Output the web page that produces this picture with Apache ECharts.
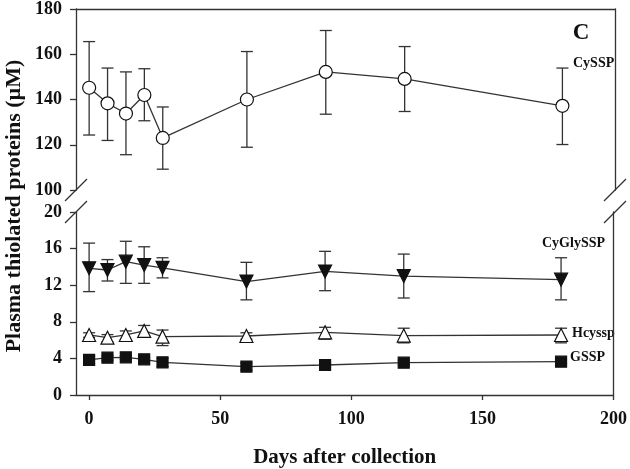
<!DOCTYPE html>
<html>
<head>
<meta charset="utf-8">
<script src="https://cdn.jsdelivr.net/npm/echarts@6/dist/echarts.min.js"></script>
<style>html,body{margin:0;padding:0;background:#fff}#c{width:630px;height:469px}</style>
</head>
<body>
<div id="c"></div>
<script>
// ---- data ----
const days = [0, 7, 14, 21, 28, 60, 90, 120, 180];
const xTicks = [0, 50, 100, 150, 200];
const topYTicks = [100, 120, 140, 160, 180];
const bottomYTicks = [0, 4, 8, 12, 16, 20];

const cyssp    = [145.2, 138.3, 133.8, 142.0, 123.0, 140.0, 152.2, 149.1, 137.2];
const cysspHi  = [165.6, 153.9, 152.2, 153.6, 136.7, 161.2, 170.5, 163.4, 153.9];
const cysspLo  = [124.3, 121.9, 115.6, 130.6, 109.2, 118.9, 133.5, 134.7, 120.1];

const cyglyssp   = [13.85, 13.66, 14.57, 14.2, 13.9, 12.4, 13.5, 13.0, 12.6];
const cyglysspHi = [16.6, 14.8, 16.8, 16.2, 15.0, 14.5, 15.7, 15.4, 15.0];
const cyglysspLo = [11.3, 12.46, 12.2, 12.2, 12.8, 10.4, 11.4, 10.6, 10.4];

const hcyssp   = [6.56, 6.26, 6.56, 7.0, 6.37, 6.45, 6.85, 6.5, 6.56];
const hcysspHi = [6.8, 6.6, 7.0, 7.6, 7.1, 6.8, 7.4, 7.3, 7.3];
const hcysspLo = [6.3, 5.8, 6.0, 6.4, 5.4, 6.1, 6.1, 5.7, 5.7];

const gssp   = [3.83, 4.08, 4.12, 3.9, 3.57, 3.1, 3.28, 3.53, 3.64];
const gsspHi = [4.2, 4.3, 4.3, 4.1, 4.0, 3.5, 3.5, 3.8, 3.9];
const gsspLo = [3.4, 3.8, 3.9, 3.6, 3.1, 2.7, 3.0, 3.3, 3.4];

// ---- styles ----
const FONT = '"Liberation Serif","Times New Roman",serif';
const LINE = '#333';

function pts(ys) { return days.map((d, i) => [d, ys[i]]); }
function errs(lo, hi) { return days.map((d, i) => [d, lo[i], hi[i]]); }

function errorSeries(lo, hi, gi) {
  return {
    type: 'custom', xAxisIndex: gi, yAxisIndex: gi * 2, z: 1,
    encode: { x: 0, y: [1, 2] },
    data: errs(lo, hi),
    renderItem: function (params, api) {
      const x = api.value(0);
      const a = api.coord([x, api.value(1)]);
      const b = api.coord([x, api.value(2)]);
      const w = 6;
      const st = { stroke: LINE, lineWidth: 1.3 };
      return {
        type: 'group', children: [
          { type: 'line', shape: { x1: a[0], y1: a[1], x2: b[0], y2: b[1] }, style: st },
          { type: 'line', shape: { x1: a[0] - w, y1: a[1], x2: a[0] + w, y2: a[1] }, style: st },
          { type: 'line', shape: { x1: b[0] - w, y1: b[1], x2: b[0] + w, y2: b[1] }, style: st }
        ]
      };
    }
  };
}

function lineSeries(name, ys, gi, symbol, size, fill, rotate) {
  return {
    name: name, type: 'line', xAxisIndex: gi, yAxisIndex: gi * 2, z: 3,
    data: pts(ys), symbol: symbol, symbolSize: size, symbolRotate: rotate || 0,
    showSymbol: true,
    lineStyle: { color: LINE, width: 1.3 },
    itemStyle: { color: fill, borderColor: '#111', borderWidth: 1.2 }
  };
}

const axisText = { fontFamily: FONT, fontWeight: 'bold', fontSize: 18, color: '#111' };
const axLine = { show: true, onZero: false, lineStyle: { color: LINE, width: 1.3 } };

const chart = echarts.init(document.getElementById('c'));
chart.setOption({
  animation: false,
  backgroundColor: '#fff',
  grid: [
    { left: 76, right: 15, top: 7, height: 183 },
    { left: 76, right: 15, top: 212, bottom: 74 }
  ],
  xAxis: [
    { gridIndex: 0, type: 'value', position: 'top', min: -5, max: 200,
      axisLine: axLine, axisTick: { show: false }, axisLabel: { show: false }, splitLine: { show: false } },
    { gridIndex: 1, type: 'value', position: 'bottom', min: -5, max: 200,
      axisLine: axLine,
      axisTick: { show: true, customValues: xTicks, length: 5, lineStyle: { color: LINE, width: 1.3 } },
      axisLabel: Object.assign({ customValues: xTicks, margin: 15 }, axisText),
      splitLine: { show: false },
      name: 'Days after collection', nameLocation: 'middle', nameGap: 52,
      nameTextStyle: { fontFamily: FONT, fontWeight: 'bold', fontSize: 21, color: '#111' } }
  ],
  yAxis: [
    { gridIndex: 0, type: 'value', position: 'left', min: 100, max: 180,
      axisLine: axLine,
      axisTick: { show: true, customValues: topYTicks, length: 6, lineStyle: { color: LINE, width: 1.3 } },
      axisLabel: Object.assign({ customValues: topYTicks, margin: 14 }, axisText),
      splitLine: { show: false } },
    { gridIndex: 0, type: 'value', position: 'right', min: 100, max: 180,
      axisLine: axLine, axisTick: { show: false }, axisLabel: { show: false }, splitLine: { show: false } },
    { gridIndex: 1, type: 'value', position: 'left', min: 0, max: 20,
      axisLine: axLine,
      axisTick: { show: true, customValues: bottomYTicks, length: 6, lineStyle: { color: LINE, width: 1.3 } },
      axisLabel: Object.assign({ customValues: bottomYTicks, margin: 14 }, axisText),
      splitLine: { show: false } },
    { gridIndex: 1, type: 'value', position: 'right', min: 0, max: 20,
      axisLine: axLine, axisTick: { show: false }, axisLabel: { show: false }, splitLine: { show: false } }
  ],
  series: [
    errorSeries(cysspLo, cysspHi, 0),
    lineSeries('CySSP', cyssp, 0, 'circle', 13, '#fff'),
    errorSeries(cyglysspLo, cyglysspHi, 1),
    lineSeries('CyGlySSP', cyglyssp, 1, 'triangle', 13, '#111', 180),
    errorSeries(hcysspLo, hcysspHi, 1),
    lineSeries('Hcyssp', hcyssp, 1, 'triangle', 13, '#fff'),
    errorSeries(gsspLo, gsspHi, 1),
    lineSeries('GSSP', gssp, 1, 'rect', 11, '#111')
  ],
  graphic: [
    // axis break marks
    { type: 'line', shape: { x1: 65, y1: 201, x2: 87, y2: 179 }, style: { stroke: LINE, lineWidth: 1.3 } },
    { type: 'line', shape: { x1: 65, y1: 223, x2: 87, y2: 201 }, style: { stroke: LINE, lineWidth: 1.3 } },
    { type: 'line', shape: { x1: 604, y1: 201, x2: 626, y2: 179 }, style: { stroke: LINE, lineWidth: 1.3 } },
    { type: 'line', shape: { x1: 604, y1: 223, x2: 626, y2: 201 }, style: { stroke: LINE, lineWidth: 1.3 } },
    // y axis title
    { type: 'text', x: 14, y: 206, rotation: Math.PI / 2,
      style: { text: 'Plasma thiolated proteins (µM)', fontFamily: FONT, fontWeight: 'bold', fontSize: 22,
               fill: '#111', align: 'center', verticalAlign: 'middle' } },
    // panel letter and series labels
    { type: 'text', x: 581, y: 33, style: { text: 'C', fontFamily: FONT, fontWeight: 'bold', fontSize: 23, fill: '#111', align: 'center', verticalAlign: 'middle' } },
    { type: 'text', x: 573, y: 63, style: { text: 'CySSP', fontFamily: FONT, fontWeight: 'bold', fontSize: 14, fill: '#111', align: 'left', verticalAlign: 'middle' } },
    { type: 'text', x: 542, y: 243, style: { text: 'CyGlySSP', fontFamily: FONT, fontWeight: 'bold', fontSize: 14, fill: '#111', align: 'left', verticalAlign: 'middle' } },
    { type: 'text', x: 572, y: 333, style: { text: 'Hcyssp', fontFamily: FONT, fontWeight: 'bold', fontSize: 14, fill: '#111', align: 'left', verticalAlign: 'middle' } },
    { type: 'text', x: 570, y: 357, style: { text: 'GSSP', fontFamily: FONT, fontWeight: 'bold', fontSize: 14, fill: '#111', align: 'left', verticalAlign: 'middle' } }
  ]
});
</script>
</body>
</html>
